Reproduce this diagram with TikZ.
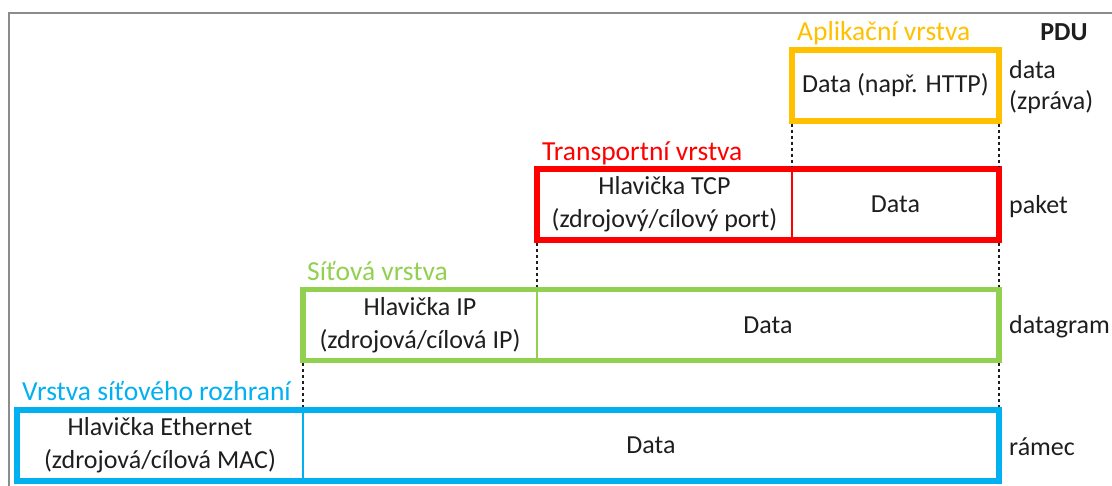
\documentclass[tikz,border=0pt]{standalone}
\usepackage{fontspec}
\setmainfont{Carlito}
\definecolor{appcol}{HTML}{FFC000}
\definecolor{tracol}{HTML}{FF0000}
\definecolor{netcol}{HTML}{92D050}
\definecolor{linkcol}{HTML}{00B0F0}
\definecolor{ink}{HTML}{1E1E1E}
\definecolor{frame}{HTML}{8C8C8C}
\tikzset{
  cell/.style={draw=#1, line width=1.2pt, rectangle, inner sep=0pt, outer sep=0pt,
    minimum height=71pt, align=center, text=ink,
    font=\fontsize{26}{33}\selectfont},
  outline/.style={draw=#1, line width=5.5pt},
  layername/.style={anchor=base west, text=#1, inner sep=0pt,
    font=\fontsize{27.5}{33}\selectfont},
  pdu/.style={anchor=west, align=left, text=ink, inner sep=0pt,
    font=\fontsize{26}{31}\selectfont},
  guide/.style={draw=ink, line width=2pt, dash pattern=on 3pt off 3pt,
    shorten <=2.75pt, shorten >=2.75pt}
}
\begin{document}
\begin{tikzpicture}[x=1pt,y=-1pt]
\useasboundingbox (0,0) rectangle (1112,486);
% frame edges
\draw[frame, line width=2pt] (8.5,486) -- (8.5,13.5) -- (1112,13.5);

% application layer
\node[cell=appcol, minimum width=207pt] (app) at (895.5,85.5) {Data (např. HTTP)};
\draw[outline=appcol] (app.north west) rectangle (app.south east);

% transport layer
\node[cell=tracol, minimum width=255pt] (tcphdr) at (664.5,204.5) {Hlavička TCP\\(zdrojový/cílový port)};
\node[cell=tracol, minimum width=207pt] (tcpdata) at (895.5,204.5) {Data};
\draw[outline=tracol] (tcphdr.north west) rectangle (tcpdata.south east);

% network layer
\node[cell=netcol, minimum width=234pt] (iphdr) at (420,325) {Hlavička IP\\(zdrojová/cílová IP)};
\node[cell=netcol, minimum width=462pt] (ipdata) at (768,325) {Data};
\draw[outline=netcol] (iphdr.north west) rectangle (ipdata.south east);

% network interface layer
\node[cell=linkcol, minimum width=286pt] (ethhdr) at (160,445.5) {Hlavička Ethernet\\(zdrojová/cílová MAC)};
\node[cell=linkcol, minimum width=696pt] (ethdata) at (651,445.5) {Data};
\draw[outline=linkcol] (ethhdr.north west) rectangle (ethdata.south east);

% layer names
\node[layername=appcol] (appname) at ([shift={(5,-9)}]app.north west) {Aplikační vrstva};
\node[layername=tracol] (traname) at ([shift={(5,-8)}]tcphdr.north west) {Transportní vrstva};
\node[layername=netcol] (netname) at ([shift={(4,-9)}]iphdr.north west) {Síťová vrstva};
\node[layername=linkcol] (linkname) at ([shift={(5,-9)}]ethhdr.north west) {Vrstva síťového rozhraní};

% encapsulation guides
\draw[guide] (app.south west) -- (tcphdr.north east);
\draw[guide] (app.south east) -- (tcpdata.north east);
\draw[guide] (tcphdr.south west) -- (iphdr.north east);
\draw[guide] (tcpdata.south east) -- (ipdata.north east);
\draw[guide] (iphdr.south west) -- (ethhdr.north east);
\draw[guide] (ipdata.south east) -- (ethdata.north east);

% PDU column
\node[anchor=base, text=ink, inner sep=0pt, font=\fontsize{26}{30}\selectfont\bfseries] (pduhead) at (1064,41) {PDU};
\node[pdu] (pdu1) at (1009,87) {data\\(zpráva)};
\node[pdu] (pdu2) at (1009,207) {paket};
\node[pdu] (pdu3) at (1009,327) {datagram};
\node[pdu] (pdu4) at (1009,447) {rámec};
\end{tikzpicture}
\end{document}
